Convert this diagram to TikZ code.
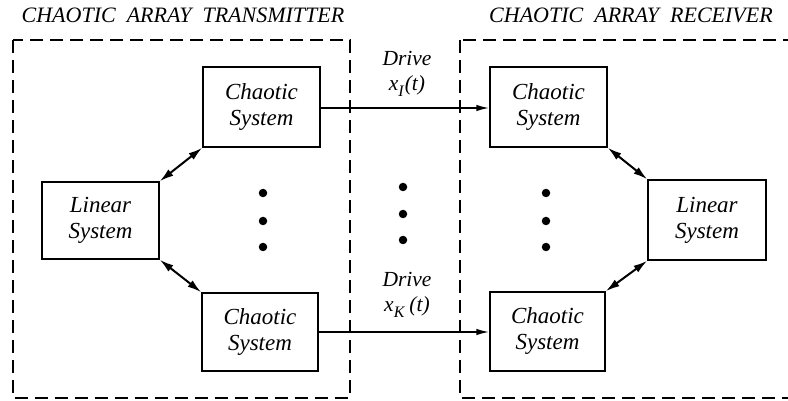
\documentclass[tikz,border=0pt]{standalone}
\usepackage{fontspec}
\setmainfont{Liberation Serif}
\usetikzlibrary{arrows.meta}
% italic signal name with a lowered index
\newcommand{\sig}[2]{x\raisebox{-6pt}{\fontsize{16}{16}\selectfont #1}\hspace{#2}(t)}
\begin{document}
\begin{tikzpicture}[x=1pt,y=-1pt,
  blk/.style={draw,line width=1.5pt,inner sep=0pt,align=center,
    font=\fontsize{23}{26}\selectfont\itshape},
  frame/.style={draw,line width=1.1pt,dash pattern=on 13pt off 7pt},
  title/.style={font=\fontsize{22}{26}\selectfont\itshape,inner sep=0pt},
  lbl/.style={font=\fontsize{21.5}{25}\selectfont\itshape,inner sep=0pt,align=center},
  feed/.style={line width=1.6pt,-{Latex[length=13pt,width=6.5pt]}},
  link/.style={line width=2pt,{Latex[length=14pt,width=8pt]}-{Latex[length=14pt,width=8pt]}},
  dot/.style={circle,fill,inner sep=0pt,minimum size=8.5pt}]
\useasboundingbox (0,0) rectangle (788,401);
\fill[white] (0,0) rectangle (788,401);

% dashed enclosures
\begin{scope}
  \clip (0,0) rectangle (788,401);
  \draw[frame] (13,40) rectangle (350,398);
  \draw[frame] (460,40) rectangle (800,398);
\end{scope}

% headings
\node[title] (ttx) at (183,15) {CHAOTIC\ \ ARRAY\ \ TRANSMITTER};
\node[title] (trx) at (631,15) {CHAOTIC\ \ ARRAY\ \ RECEIVER};

% transmitter blocks
\node[blk,minimum width=117pt,minimum height=80pt] (tc1) at (261.5,107) {Chaotic\\System};
\node[blk,minimum width=117pt,minimum height=77pt] (tl) at (100.5,220.5) {Linear\\System};
\node[blk,minimum width=116pt,minimum height=78pt] (tck) at (260,332) {Chaotic\\System};

% receiver blocks
\node[blk,minimum width=117pt,minimum height=80pt] (rc1) at (548.5,107) {Chaotic\\System};
\node[blk,minimum width=118pt,minimum height=80pt] (rl) at (707,220) {Linear\\System};
\node[blk,minimum width=115pt,minimum height=79pt] (rck) at (547.5,331.5) {Chaotic\\System};

% drive signals
\draw[feed] (tc1.east |- 0,108) -- (rc1.west |- 0,108);
\draw[feed] (tck.east |- 0,332) -- (rck.west |- 0,332);
\node[lbl] (d1) at (407,74) {Drive\\\sig{I}{1pt}};
\node[lbl] (dk) at (407,295) {Drive\\\sig{K}{5pt}};

% couplings to the linear systems
\draw[link] (tl.north east) -- (tc1.south west);
\draw[link] (tl.south east) -- (tck.north west);
\draw[link] (rc1.south east) -- (rl.north west);
\draw[link] (rck.north east) -- (rl.south west);

% ellipses
\node[dot] (a1) at (263,193) {};
\node[dot] (a2) at (263,221) {};
\node[dot] (a3) at (263,247) {};
\node[dot] (b1) at (403,187) {};
\node[dot] (b2) at (403,214) {};
\node[dot] (b3) at (403,240) {};
\node[dot] (c1) at (546,193) {};
\node[dot] (c2) at (546,221) {};
\node[dot] (c3) at (546,247) {};
\end{tikzpicture}
\end{document}
